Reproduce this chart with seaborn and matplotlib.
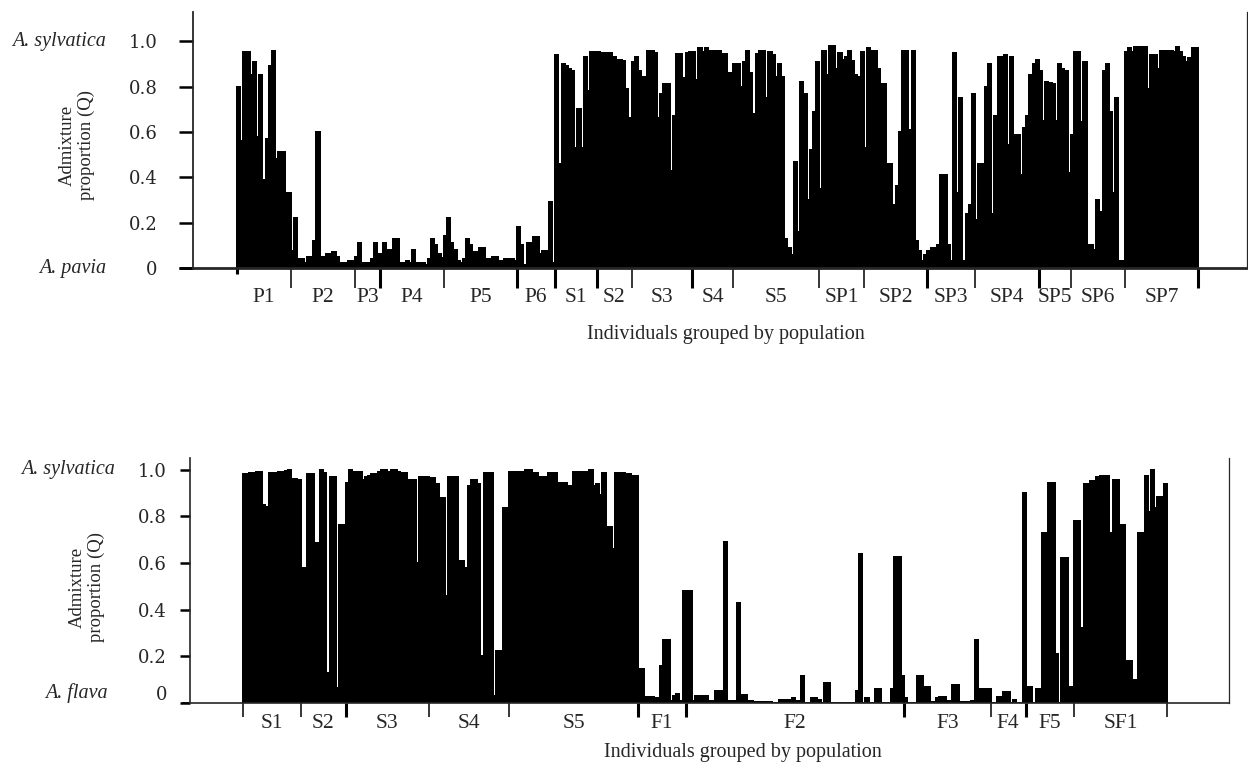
import numpy as np
import pandas as pd
import matplotlib
matplotlib.use("Agg")
import matplotlib.pyplot as plt
import seaborn as sns
from matplotlib.transforms import blended_transform_factory, ScaledTranslation

# ---------------- top panel: A. sylvatica vs A. pavia ----------------
top_groups = ["P1", "P2", "P3", "P4", "P5", "P6", "S1", "S2", "S3", "S4", "S5",
              "SP1", "SP2", "SP3", "SP4", "SP5", "SP6", "SP7"]
top_P1 = [0.80, 0.56, 0.955, 0.955, 0.85, 0.91, 0.58, 0.85, 0.39, 0.57, 0.89, 0.96, 0.48, 0.51, 0.51, 0.33, 0.33]
top_P2 = [0.074, 0.22, 0.04, 0.04, 0.02, 0.05, 0.05, 0.12, 0.60, 0.05, 0.05, 0.06, 0.06, 0.07, 0.05, 0.02, 0.02, 0.02, 0.03, 0.03]
top_P3 = [0.05, 0.11, 0.02, 0.02, 0.02, 0.04, 0.11, 0.06]
top_P4 = [0.06, 0.11, 0.08, 0.08, 0.13, 0.13, 0.02, 0.02, 0.03, 0.02, 0.08, 0.02, 0.02, 0.02, 0.015, 0.04, 0.13, 0.10, 0.06, 0.045]
top_P5 = [0.14, 0.22, 0.11, 0.08, 0.03, 0.02, 0.04, 0.13, 0.10, 0.07, 0.07, 0.09, 0.09, 0.04, 0.04, 0.05, 0.05, 0.03, 0.03, 0.04, 0.04, 0.04, 0.03]
top_P6 = [0.18, 0.10, 0.015, 0.11, 0.11, 0.135, 0.135, 0.06, 0.075, 0.075, 0.29, 0.02]
top_S1 = [0.94, 0.46, 0.90, 0.89, 0.88, 0.87, 0.53, 0.70, 0.53, 0.93, 0.78, 0.955, 0.955]
top_S2 = [0.955, 0.95, 0.95, 0.95, 0.95, 0.93, 0.92, 0.92, 0.915, 0.79, 0.66]
top_S3 = [0.91, 0.93, 0.87, 0.845, 0.845, 0.96, 0.96, 0.95, 0.66, 0.77, 0.81, 0.81, 0.43, 0.67, 0.945, 0.945, 0.84, 0.95, 0.955]
top_S4 = [0.955, 0.83, 0.97, 0.955, 0.97, 0.96, 0.96, 0.96, 0.96, 0.945, 0.945, 0.86, 0.86]
top_S5 = [0.90, 0.90, 0.80, 0.91, 0.96, 0.86, 0.68, 0.945, 0.96, 0.96, 0.75, 0.955, 0.94, 0.845, 0.90, 0.845,
          0.13, 0.09, 0.056, 0.47, 0.16, 0.82, 0.77, 0.30, 0.52, 0.69, 0.91]
top_SP1 = [0.35, 0.96, 0.85, 0.98, 0.98, 0.88, 0.95, 0.92, 0.93, 0.96, 0.915, 0.85, 0.845, 0.955]
top_SP2 = [0.53, 0.97, 0.96, 0.96, 0.88, 0.81, 0.81, 0.46, 0.46, 0.28, 0.36, 0.60, 0.96, 0.96, 0.61, 0.96, 0.12, 0.074, 0.03, 0.056]
top_SP3 = [0.077, 0.09, 0.09, 0.10, 0.41, 0.41, 0.10, 0.03, 0.95, 0.33, 0.75, 0.03, 0.24, 0.28, 0.77]
top_SP4 = [0.21, 0.46, 0.46, 0.80, 0.90, 0.24, 0.67, 0.93, 0.93, 0.94, 0.545, 0.93, 0.585, 0.585, 0.41, 0.62, 0.67, 0.85, 0.90, 0.92]
top_SP5 = [0.87, 0.65, 0.82, 0.815, 0.81, 0.65, 0.90, 0.88, 0.87, 0.42]
top_SP6 = [0.585, 0.955, 0.955, 0.645, 0.91, 0.10, 0.10, 0.08, 0.30, 0.245, 0.87, 0.90, 0.69, 0.33, 0.75, 0.03, 0.03]
top_SP7 = [0.955, 0.97, 0.955, 0.975, 0.975, 0.975, 0.975, 0.79, 0.94, 0.94, 0.88, 0.96, 0.96, 0.96, 0.96,
           0.955, 0.975, 0.955, 0.93, 0.91, 0.925, 0.97, 0.97]
top_values = [top_P1, top_P2, top_P3, top_P4, top_P5, top_P6, top_S1, top_S2, top_S3, top_S4, top_S5,
              top_SP1, top_SP2, top_SP3, top_SP4, top_SP5, top_SP6, top_SP7]

# ---------------- bottom panel: A. sylvatica vs A. flava ----------------
bot_groups = ["S1", "S2", "S3", "S4", "S5", "F1", "F2", "F3", "F4", "F5", "SF1"]
bot_S1 = [0.98, 0.98, 0.985, 0.985, 0.99, 0.99, 0.85, 0.84, 0.985, 0.985, 0.985, 0.99, 0.99, 0.995, 1.0, 0.96, 0.96, 0.955]
bot_S2 = [0.58, 0.58, 0.98, 0.98, 0.685, 0.685, 1.0, 0.985, 0.13, 0.97, 0.97, 0.064, 0.765, 0.765]
bot_S3 = [0.945, 1.0, 0.99, 0.99, 0.99, 0.955, 0.97, 0.975, 0.98, 0.98, 0.99, 1.0, 1.0, 0.99, 1.0, 1.0, 0.99,
          0.985, 0.985, 0.955, 0.955, 0.955, 0.60, 0.97, 0.97, 0.97]
bot_S4 = [0.965, 0.965, 0.94, 0.88, 0.88, 0.46, 0.97, 0.97, 0.97, 0.61, 0.61, 0.58, 0.93, 0.955, 0.955, 0.94,
          0.20, 0.985, 0.985, 0.985, 0.03, 0.225, 0.225, 0.835, 0.835]
bot_S5 = [0.99, 0.99, 0.99, 0.99, 0.99, 1.0, 1.0, 0.985, 0.985, 0.97, 0.97, 0.97, 0.985, 0.985, 0.985, 0.945,
          0.945, 0.945, 0.93, 0.93, 0.99, 0.99, 0.99, 0.99, 0.99, 1.0, 0.93, 0.94, 0.89, 0.985, 0.755, 0.755,
          0.66, 0.985, 0.985, 0.985, 0.98, 0.98, 0.975, 0.975]
bot_F1 = [0.145, 0.145, 0.025, 0.025, 0.025, 0.02, 0.02, 0.16, 0.27, 0.27, 0.007, 0.03, 0.04, 0.01, 0.48]
bot_F2 = [0.48, 0.48, 0.007, 0.03, 0.03, 0.03, 0.03, 0.007, 0.007, 0.05, 0.05, 0.05, 0.69, 0.01, 0.01, 0.01,
          0.43, 0.033, 0.033, 0.007, 0.007, 0.005, 0.005, 0.005, 0.005, 0.005, 0.003, 0.0, 0.0, 0.015, 0.015,
          0.015, 0.015, 0.02, 0.007, 0.007, 0.115, 0.0, 0.0, 0.02, 0.02, 0.015, 0.0, 0.086, 0.086, 0.002,
          0.002, 0.002, 0.002, 0.002, 0.002, 0.002, 0.002, 0.05, 0.64, 0.002, 0.02, 0.002, 0.002, 0.062,
          0.062, 0.002, 0.002, 0.002, 0.058, 0.625, 0.625, 0.115]
bot_F3 = [0.02, 0.0, 0.0, 0.0, 0.115, 0.115, 0.068, 0.068, 0.005, 0.005, 0.02, 0.025, 0.025, 0.01, 0.01,
          0.076, 0.076, 0.005, 0.005, 0.005, 0.005, 0.01, 0.27, 0.058, 0.058, 0.058, 0.062]
bot_F4 = [0.0, 0.0, 0.025, 0.025, 0.047, 0.047, 0.0, 0.015, 0.0, 0.0, 0.90]
bot_F5 = [0.068, 0.068, 0.0, 0.062, 0.062, 0.73, 0.73, 0.945, 0.945, 0.21, 0.0, 0.62, 0.62, 0.068, 0.068]
bot_SF1 = [0.78, 0.78, 0.32, 0.94, 0.94, 0.95, 0.95, 0.97, 0.975, 0.975, 0.975, 0.73, 0.955, 0.955, 0.765,
           0.765, 0.18, 0.18, 0.10, 0.10, 0.73, 0.73, 0.975, 0.82, 1.0, 0.835, 0.885, 0.885, 0.94]
bot_values = [bot_S1, bot_S2, bot_S3, bot_S4, bot_S5, bot_F1, bot_F2, bot_F3, bot_F4, bot_F5, bot_SF1]

y_ticks = [0, 0.2, 0.4, 0.6, 0.8, 1.0]
y_ticklabels = ["0", "0.2", "0.4", "0.6", "0.8", "1.0"]

# thin / thick group separators (as in the original figure)
top_tick_w = [2.2, 1.1, 1.1, 2.2, 1.1, 2.2, 2.2, 2.2, 1.1, 2.2, 1.1, 1.1, 1.1, 2.2, 1.1, 2.2, 1.1, 1.1, 2.2]
bot_tick_w = [1.1, 1.1, 2.2, 1.1, 1.1, 2.2, 2.2, 2.2, 1.1, 2.2, 1.1, 1.1]

sns.set_style("ticks")
plt.rcParams['font.family'] = ['Liberation Serif', 'DejaVu Serif']

W, H = 1248, 765
fig = plt.figure(figsize=(W / 100, H / 100), dpi=100)


def px_axes(left, top, right, bottom):
    return fig.add_axes([left / W, 1 - bottom / H, (right - left) / W, (bottom - top) / H])


def draw_panel(ax, groups, values, pad_l, pad_r, ytop, tick_len, tick_w, lab_pad,
               ytick_len, ytick_pad, spine_w, xline_w, left_ext):
    q = [v for g in values for v in g]
    df = pd.DataFrame({"ind": np.arange(len(q)), "q": q})
    sns.barplot(data=df, x="ind", y="q", color="black", saturation=1, width=1.0,
                native_scale=True, errorbar=None, linewidth=0.3, edgecolor="black", ax=ax)
    # no light seams between neighbouring individuals
    for p in ax.patches:
        p.set_antialiased(False)

    counts = [len(g) for g in values]
    edges = np.concatenate([[0], np.cumsum(counts)]) - 0.5
    centers = (edges[:-1] + edges[1:]) / 2
    ax.set_xlim(-0.5 - pad_l, edges[-1] + pad_r)
    ax.set_ylim(0, ytop)

    ax.set_xticks(edges)
    ax.set_xticklabels([])
    ax.set_xticks(centers, minor=True)
    ax.set_xticklabels(groups, minor=True, fontsize=15.5)
    ax.tick_params(axis="x", which="major", direction="out", length=tick_len, width=1.1, color="black")
    ax.tick_params(axis="x", which="minor", length=0, pad=lab_pad)
    for t, w in zip(ax.xaxis.get_major_ticks(), tick_w):
        t.tick1line.set_markeredgewidth(w)

    ax.set_yticks(y_ticks)
    ax.set_yticklabels(y_ticklabels, fontsize=13, family="DejaVu Serif")
    ax.tick_params(axis="y", direction="out", length=ytick_len, width=1.8, pad=ytick_pad, color="black")
    ax.set_xlabel("")
    ax.set_ylabel("")

    ax.spines["top"].set_visible(False)
    ax.spines["left"].set_linewidth(spine_w)
    ax.spines["right"].set_linewidth(0.9)
    ax.spines["bottom"].set_linewidth(xline_w)
    x0 = ax.get_xlim()[0]
    ax.plot([x0 - left_ext, x0], [0, 0], color="black", lw=xline_w, clip_on=False,
            solid_capstyle="butt")
    return edges


# ---- top ----
ax1 = px_axes(193, 12, 1247, 268)
draw_panel(ax1, top_groups, top_values, pad_l=13.8, pad_r=15.4, ytop=1.13,
           tick_len=14.5, tick_w=top_tick_w, lab_pad=14.5, ytick_len=10, ytick_pad=15.5,
           spine_w=1.3, xline_w=2.0, left_ext=4.4)
ax1.xaxis.get_major_ticks()[0].tick1line.set_markersize(4)

# ---- bottom ----
ax2 = px_axes(190, 458, 1229, 703)
draw_panel(ax2, bot_groups, bot_values, pad_l=16.5, pad_r=19.3, ytop=1.05,
           tick_len=10, tick_w=bot_tick_w, lab_pad=8, ytick_len=7, ytick_pad=9.5,
           spine_w=1.2, xline_w=1.2, left_ext=2.5)
zero_lab = ax2.get_yticklabels()[0]
zero_lab.set_transform(zero_lab.get_transform() + ScaledTranslation(0, 7 / 72, fig.dpi_scale_trans))

# species names next to the y scale
tr1 = blended_transform_factory(fig.transFigure, ax1.transData)
ax1.text(106 / W, 1.0, "A. sylvatica", transform=tr1, ha="right", va="center", fontsize=14.5, style="italic")
ax1.text(106 / W, 0.0, "A. pavia", transform=tr1, ha="right", va="center", fontsize=14.5, style="italic")
tr2 = blended_transform_factory(fig.transFigure, ax2.transData)
ax2.text(115 / W, 1.0, "A. sylvatica", transform=tr2, ha="right", va="center", fontsize=14.5, style="italic")
ax2.text(108 / W, 0.043, "A. flava", transform=tr2, ha="right", va="center", fontsize=14.5, style="italic")

# axis titles
fig.text(77 / W, 1 - 145 / H, "Admixture\nproportion (Q)", rotation=90, ha="center", va="center",
         multialignment="center", fontsize=13.5, linespacing=1.1)
fig.text(87 / W, 1 - 587 / H, "Admixture\nproportion (Q)", rotation=90, ha="center", va="center",
         multialignment="center", fontsize=13.5, linespacing=1.1)
fig.text(726 / W, 1 - 335 / H, "Individuals grouped by population", ha="center", va="center", fontsize=14.5)
fig.text(743 / W, 1 - 753 / H, "Individuals grouped by population", ha="center", va="center", fontsize=14.5)

fig.savefig("out.png", dpi=100)
plt.close(fig)
